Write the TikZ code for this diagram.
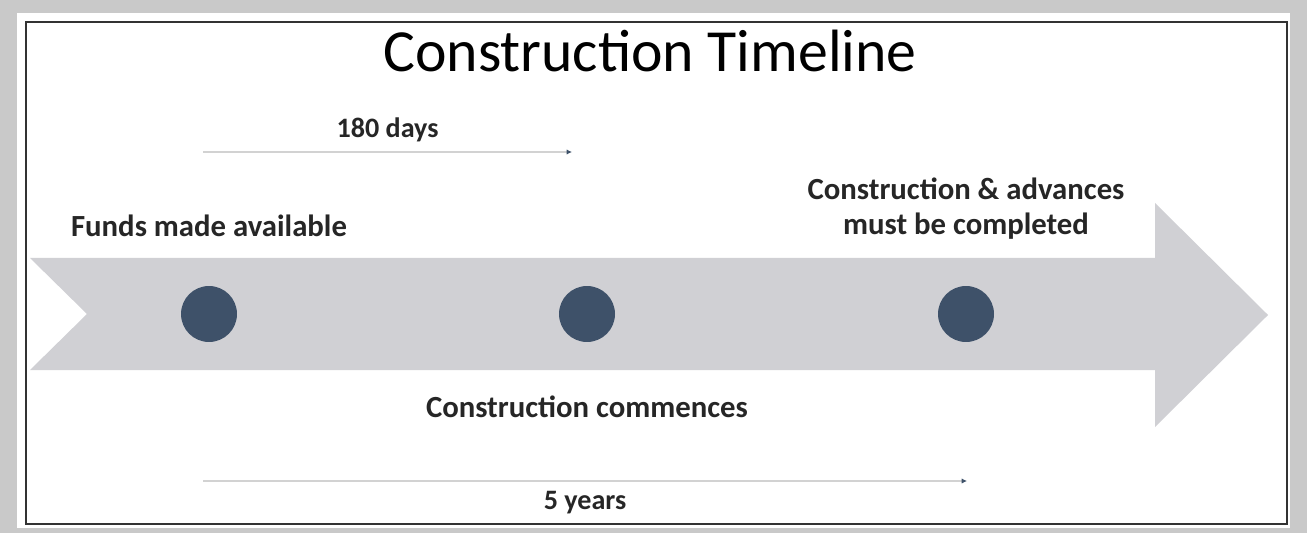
\documentclass[tikz,border=0pt]{standalone}
\usepackage{fontspec}
\setmainfont{Carlito}
\usetikzlibrary{positioning,arrows.meta}
\definecolor{dotblue}{HTML}{3E5169}
\definecolor{bandgrey}{HTML}{D0D0D4}
\definecolor{framegrey}{HTML}{C9C9C9}

\begin{document}
\begin{tikzpicture}[x=0.02cm,y=-0.02cm,
    dot/.style={circle,fill=dotblue,minimum size=1.12cm,inner sep=0pt},
    lbl/.style={font=\fontsize{17.5}{20}\selectfont\bfseries,align=center,text=black!85},
    small lbl/.style={lbl,font=\fontsize{16}{19}\selectfont\bfseries},
    span/.style={draw=gray!35,line width=1.3pt,-{Latex[length=3pt,width=3pt,color=dotblue]}}]
  % frame round the slide
  \fill[framegrey] (0,0) rectangle (1307,533);
  \fill[white] (17,13) rectangle (1290,528);
  \draw[line width=1.5pt,black!80] (26,22) rectangle (1287,524);
  % the big grey arrow
  \fill[bandgrey] (30,258) -- (1155,258) -- (1155,203) -- (1268,315) -- (1155,427)
    -- (1155,370) -- (30,370) -- (87,314) -- cycle;
  \node[font=\fontsize{34}{40}\selectfont] (title) at (650,51) {Construction Timeline};
  % milestones
  \node[dot] (d1) at (209,314) {};
  \node[dot] (d2) at (587,314) {};
  \node[dot] (d3) at (966,314) {};
  \node[lbl, above=0.86cm of d1] (funds) {Funds made available};
  \node[lbl, below=0.94cm of d2] (start) {Construction commences};
  \node[lbl, above=0.8cm of d3] (done) {Construction \& advances\\must be completed};
  % durations
  \coordinate (s1) at (203,152);
  \coordinate (e1) at (572,152);
  \coordinate (s2) at (203,481);
  \coordinate (e2) at (967,481);
  \draw[span] (s1) -- node[small lbl, above=2pt] (days) {180 days} (e1);
  \draw[span] (s2) -- node[small lbl, below=2pt] (years) {5 years} (e2);
\end{tikzpicture}
\end{document}
